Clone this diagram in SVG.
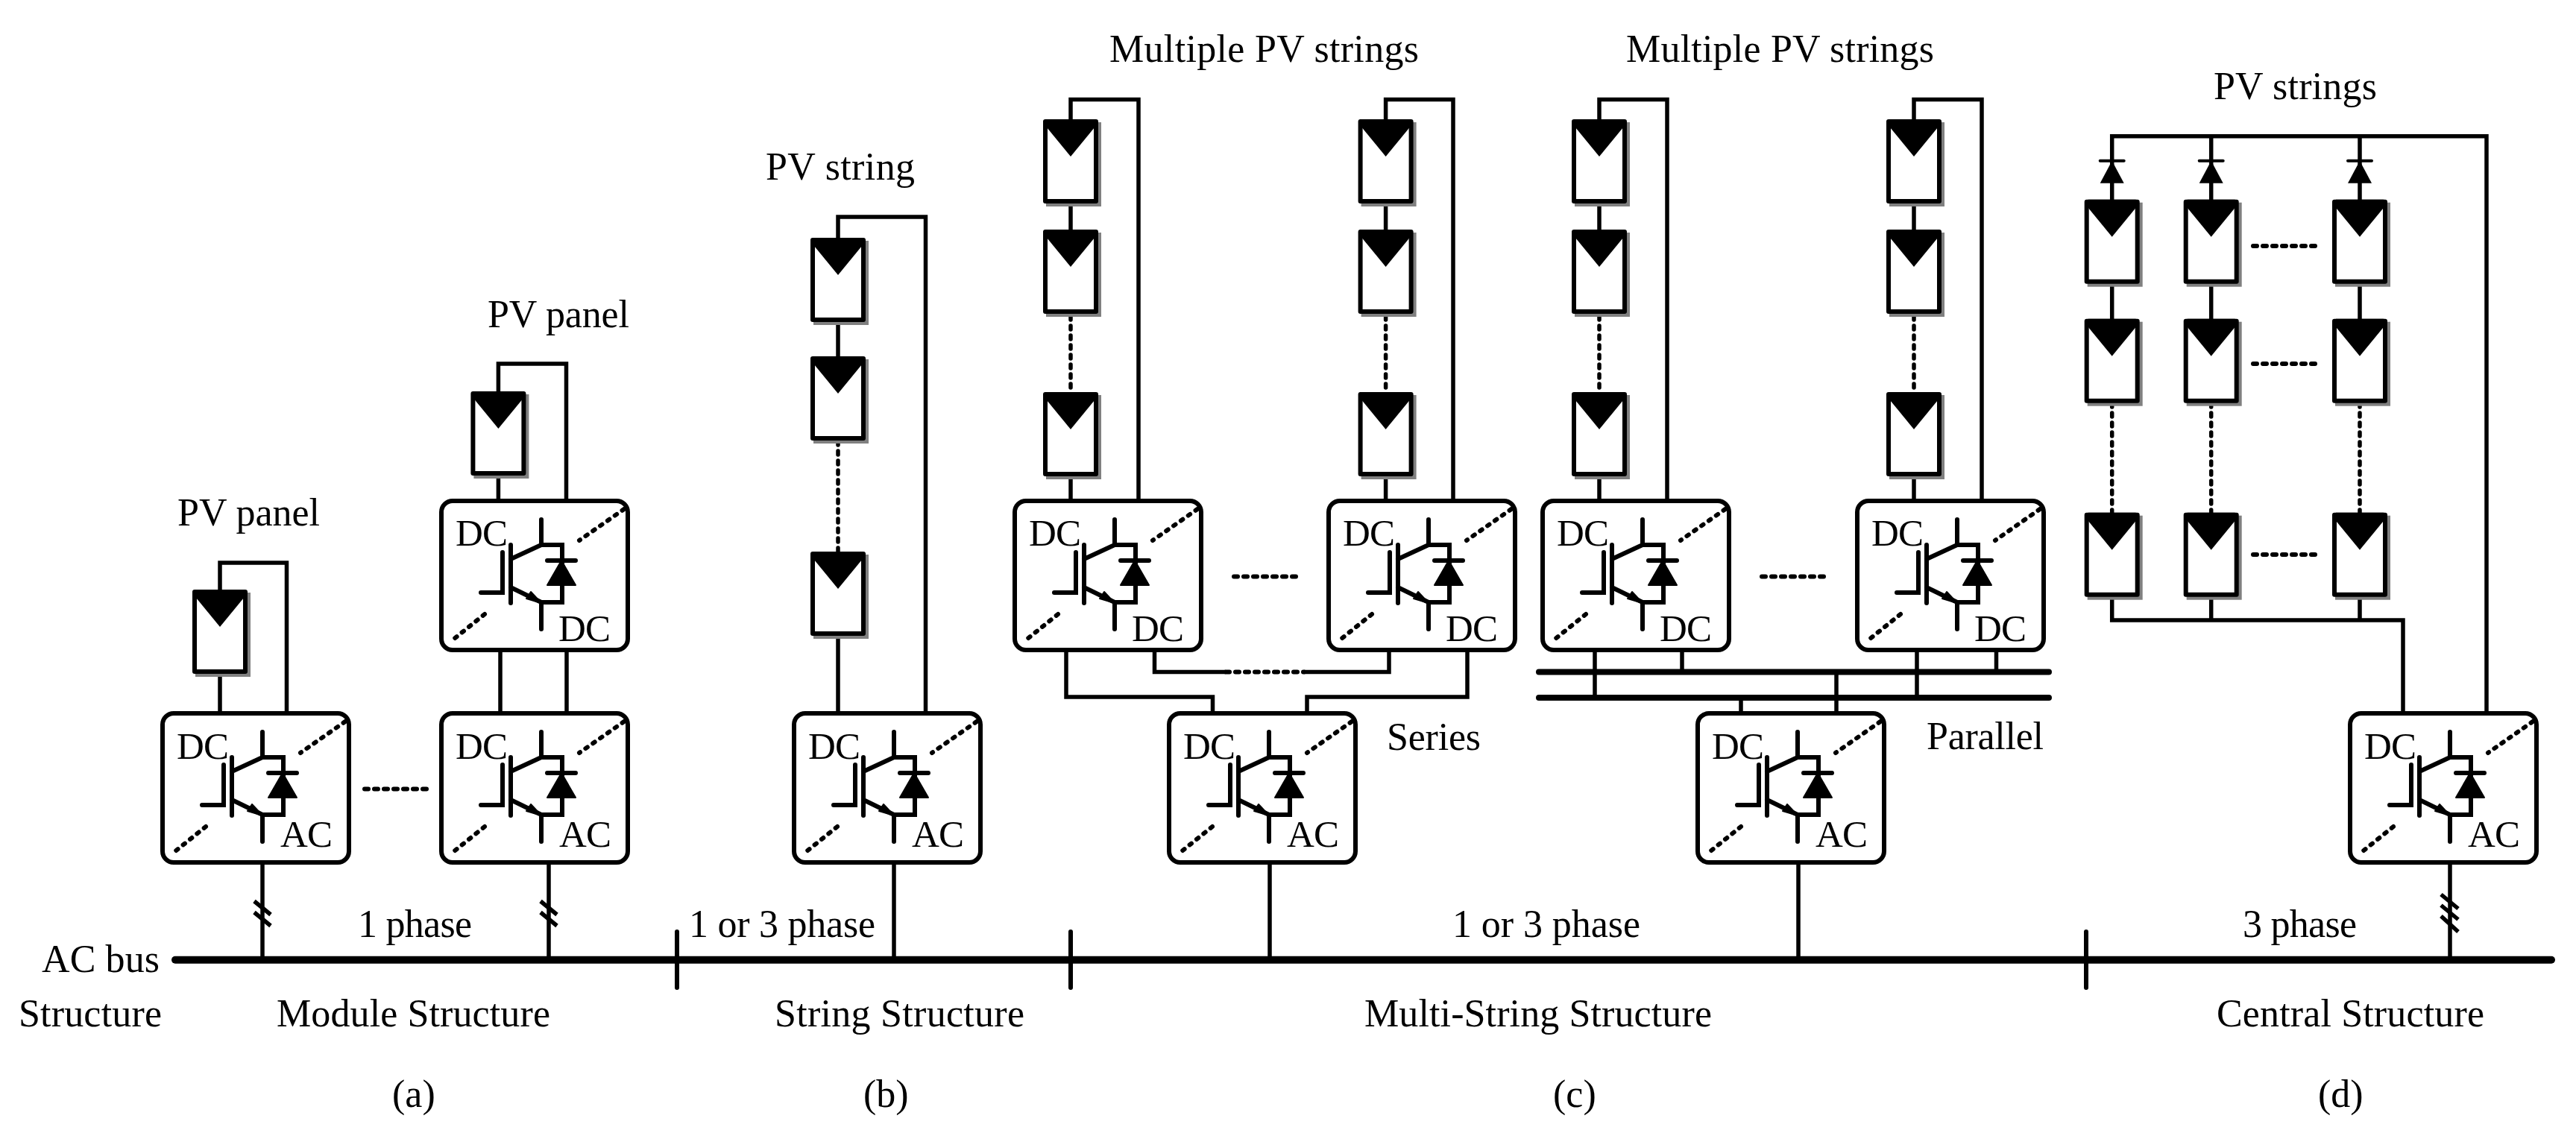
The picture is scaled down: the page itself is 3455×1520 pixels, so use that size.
<svg xmlns="http://www.w3.org/2000/svg" xmlns:xlink="http://www.w3.org/1999/xlink" width="3455" height="1520" viewBox="0 0 3455 1520">
<style>
text{font-family:"Liberation Serif","Times New Roman",serif;fill:#000}
.l{font-size:52px}
.c{font-size:51px}
.w{fill:none;stroke:#000;stroke-width:5.5;stroke-linejoin:miter;stroke-linecap:butt}
.d{fill:none;stroke:#000;stroke-width:5.5;stroke-linecap:round;stroke-dasharray:5 8}
.h{fill:none;stroke:#000;stroke-width:6;stroke-linecap:round;stroke-dasharray:5 8}
.b{fill:none;stroke:#000;stroke-linecap:round}
</style>
<defs>
<g id="pv">
<rect x="-33" y="4" width="74" height="113" fill="#808080"/>
<rect x="-34" y="3" width="68" height="107" fill="#fff" stroke="#000" stroke-width="6" stroke-linejoin="round"/>
<polygon points="-32,0 32,0 32,11 0,50 -32,11" fill="#000"/>
</g>
<g id="conv">
<rect x="0" y="0" width="250" height="200" rx="15" ry="15" fill="#fff" stroke="#000" stroke-width="6"/>
<path d="M245 11L185 53M58 152L12 189" fill="none" stroke="#000" stroke-width="6" stroke-linecap="round" stroke-dasharray="3 9"/>
<path d="M134 25V59H162V136H134V172M93 59V137M82 69V123H53M93 78L134 59M93 116L134 136M142 80H180" fill="none" stroke="#000" stroke-width="6" stroke-linecap="round"/>
<polygon points="161,80 180,113 142,113" fill="#000" stroke="#000" stroke-width="2" stroke-linejoin="round"/>
<polygon points="134,137 120,122 114,131" fill="#000" stroke="#000" stroke-width="2" stroke-linejoin="round"/>
</g>
<g id="dio">
<path d="M-16 0H16" fill="none" stroke="#000" stroke-width="4" stroke-linecap="round"/>
<polygon points="0,0 16,30 -16,30" fill="#000"/>
</g>
</defs>
<rect width="3455" height="1520" fill="#fff"/>
<g id="connectors">
<path class="b" stroke-width="10" d="M235 1287.7H3422"/>
<path class="b" stroke-width="6" d="M908 1250V1325M1436 1250V1325M2798 1250V1325"/>
<path class="w" d="M352 1157V1287M736 1157V1287M1199 1157V1287M1703 1157V1287M2412 1157V1287M3286 1157V1287"/>
<path class="w" d="M341 1209L363 1227M341 1224L363 1242M725 1209L747 1227M725 1224L747 1242M3274 1200L3297 1219M3274 1214.500L3297 1233.500M3274 1229L3297 1250"/>
<path class="w" d="M295 791V755H384.500V957M295 904V957"/>
<path class="w" d="M668.400 525V488H759.500V672M668.400 638V672M671 872V957M760 872V957"/>
<path class="h" d="M489 1058.600H575"/>
<path class="w" d="M1124 319V291H1241.500V957M1124 432V478M1124 851V957"/>
<path class="d" d="M1124 592V740"/>
<path class="w" d="M1436 160V133.600H1527V672M1436 274V308M1436 639V672"/>
<path class="w" d="M1858.600 160V133.600H1949V672M1858.600 274V308M1858.600 639V672"/>
<path class="d" d="M1436 424V526M1858.600 424V526"/>
<path class="h" d="M1655 773.600H1742M1644 901.400H1749"/>
<path class="w" d="M1430 872V935H1626.500V957M1968 872V935H1753V957M1548.500 872V901.400H1644M1749 901.400H1863V872"/>
<path class="w" d="M2145 160V133.600H2236V672M2145 274V308M2145 639V672"/>
<path class="w" d="M2567 160V133.600H2658V672M2567 274V308M2567 639V672"/>
<path class="d" d="M2145 424V526M2567 424V526"/>
<path class="h" d="M2363 773.600H2451"/>
<path class="b" stroke-width="8" d="M2064 901.400H2748M2064 936H2748"/>
<path class="w" d="M2139 872V936M2256 872V901M2571 872V936M2677.500 872V901M2463 901V957M2335 936V957"/>
<path class="w" d="M2832.700 268V182.700H3335V957M2965.700 182.700V268M3165 182.700V268"/>
<path class="w" d="M2832.700 380V428M2965.700 380V428M3165 380V428"/>
<path class="d" d="M2832.700 541V688M2965.700 541V688M3165 541V688"/>
<path class="h" d="M3022 330H3109M3022 488H3109M3022 744H3109"/>
<path class="w" d="M2832.700 801V832H3223V957M2965.700 801V832M3165 801V832"/>
</g>
<g id="diodes">
<use xlink:href="#dio" href="#dio" x="2832.700" y="215.700"/>
<use xlink:href="#dio" href="#dio" x="2965.700" y="215.700"/>
<use xlink:href="#dio" href="#dio" x="3165" y="215.700"/>
</g>
<g id="panel-a1"><use xlink:href="#pv" href="#pv" x="295" y="791"/></g>
<g id="panel-a2"><use xlink:href="#pv" href="#pv" x="668.400" y="525"/></g>
<g id="panel-b1"><use xlink:href="#pv" href="#pv" x="1124" y="319"/></g>
<g id="panel-b2"><use xlink:href="#pv" href="#pv" x="1124" y="478"/></g>
<g id="panel-b3"><use xlink:href="#pv" href="#pv" x="1124" y="740"/></g>
<g id="panel-c1"><use xlink:href="#pv" href="#pv" x="1436" y="160"/></g>
<g id="panel-c2"><use xlink:href="#pv" href="#pv" x="1436" y="308"/></g>
<g id="panel-c3"><use xlink:href="#pv" href="#pv" x="1436" y="526"/></g>
<g id="panel-c4"><use xlink:href="#pv" href="#pv" x="1858.600" y="160"/></g>
<g id="panel-c5"><use xlink:href="#pv" href="#pv" x="1858.600" y="308"/></g>
<g id="panel-c6"><use xlink:href="#pv" href="#pv" x="1858.600" y="526"/></g>
<g id="panel-c7"><use xlink:href="#pv" href="#pv" x="2145" y="160"/></g>
<g id="panel-c8"><use xlink:href="#pv" href="#pv" x="2145" y="308"/></g>
<g id="panel-c9"><use xlink:href="#pv" href="#pv" x="2145" y="526"/></g>
<g id="panel-c10"><use xlink:href="#pv" href="#pv" x="2567" y="160"/></g>
<g id="panel-c11"><use xlink:href="#pv" href="#pv" x="2567" y="308"/></g>
<g id="panel-c12"><use xlink:href="#pv" href="#pv" x="2567" y="526"/></g>
<g id="panel-d1"><use xlink:href="#pv" href="#pv" x="2832.700" y="267.700"/></g>
<g id="panel-d2"><use xlink:href="#pv" href="#pv" x="2965.700" y="267.700"/></g>
<g id="panel-d3"><use xlink:href="#pv" href="#pv" x="3165" y="267.700"/></g>
<g id="panel-d4"><use xlink:href="#pv" href="#pv" x="2832.700" y="427.700"/></g>
<g id="panel-d5"><use xlink:href="#pv" href="#pv" x="2965.700" y="427.700"/></g>
<g id="panel-d6"><use xlink:href="#pv" href="#pv" x="3165" y="427.700"/></g>
<g id="panel-d7"><use xlink:href="#pv" href="#pv" x="2832.700" y="687.700"/></g>
<g id="panel-d8"><use xlink:href="#pv" href="#pv" x="2965.700" y="687.700"/></g>
<g id="panel-d9"><use xlink:href="#pv" href="#pv" x="3165" y="687.700"/></g>
<g id="conv-a1"><use xlink:href="#conv" href="#conv" x="218" y="957"/><text class="c" x="237" y="1018" textLength="70">DC</text><text class="c" x="376" y="1136" textLength="70">AC</text></g>
<g id="conv-a2"><use xlink:href="#conv" href="#conv" x="592" y="957"/><text class="c" x="611" y="1018" textLength="70">DC</text><text class="c" x="750" y="1136" textLength="70">AC</text></g>
<g id="conv-a3"><use xlink:href="#conv" href="#conv" x="592" y="672"/><text class="c" x="611" y="732" textLength="70">DC</text><text class="c" x="749" y="860" textLength="70">DC</text></g>
<g id="conv-b"><use xlink:href="#conv" href="#conv" x="1065" y="957"/><text class="c" x="1084" y="1018" textLength="70">DC</text><text class="c" x="1223" y="1136" textLength="70">AC</text></g>
<g id="conv-c1"><use xlink:href="#conv" href="#conv" x="1361" y="672"/><text class="c" x="1380" y="732" textLength="70">DC</text><text class="c" x="1518" y="860" textLength="70">DC</text></g>
<g id="conv-c2"><use xlink:href="#conv" href="#conv" x="1782" y="672"/><text class="c" x="1801" y="732" textLength="70">DC</text><text class="c" x="1939" y="860" textLength="70">DC</text></g>
<g id="conv-c3"><use xlink:href="#conv" href="#conv" x="1568" y="957"/><text class="c" x="1587" y="1018" textLength="70">DC</text><text class="c" x="1726" y="1136" textLength="70">AC</text></g>
<g id="conv-c4"><use xlink:href="#conv" href="#conv" x="2069" y="672"/><text class="c" x="2088" y="732" textLength="70">DC</text><text class="c" x="2226" y="860" textLength="70">DC</text></g>
<g id="conv-c5"><use xlink:href="#conv" href="#conv" x="2491" y="672"/><text class="c" x="2510" y="732" textLength="70">DC</text><text class="c" x="2648" y="860" textLength="70">DC</text></g>
<g id="conv-c6"><use xlink:href="#conv" href="#conv" x="2277" y="957"/><text class="c" x="2296" y="1018" textLength="70">DC</text><text class="c" x="2435" y="1136" textLength="70">AC</text></g>
<g id="conv-d"><use xlink:href="#conv" href="#conv" x="3152" y="957"/><text class="c" x="3171" y="1018" textLength="70">DC</text><text class="c" x="3310" y="1136" textLength="70">AC</text></g>
<g id="labels">
<text class="l" x="238" y="705" textLength="191">PV panel</text>
<text class="l" x="654" y="439" textLength="190">PV panel</text>
<text class="l" x="1027" y="241" textLength="200">PV string</text>
<text class="l" x="1488" y="83" textLength="415">Multiple PV strings</text>
<text class="l" x="2181" y="83" textLength="413">Multiple PV strings</text>
<text class="l" x="2969" y="133" textLength="219">PV strings</text>
<text class="l" x="1860" y="1006" textLength="126">Series</text>
<text class="l" x="2584" y="1005" textLength="157">Parallel</text>
<text class="l" x="56" y="1304" textLength="158">AC bus</text>
<text class="l" x="480" y="1257" textLength="153">1 phase</text>
<text class="l" x="924" y="1257" textLength="250">1 or 3 phase</text>
<text class="l" x="1948" y="1257" textLength="252">1 or 3 phase</text>
<text class="l" x="3008" y="1257" textLength="153">3 phase</text>
<text class="l" x="25" y="1377" textLength="192">Structure</text>
<text class="l" x="371" y="1377" textLength="367">Module Structure</text>
<text class="l" x="1039" y="1377" textLength="335">String Structure</text>
<text class="l" x="1830" y="1377" textLength="466">Multi-String Structure</text>
<text class="l" x="2973" y="1377" textLength="359">Central Structure</text>
<text class="l" x="526" y="1485">(a)</text>
<text class="l" x="1158" y="1485">(b)</text>
<text class="l" x="2083" y="1485">(c)</text>
<text class="l" x="3109" y="1485">(d)</text>
</g>
</svg>
